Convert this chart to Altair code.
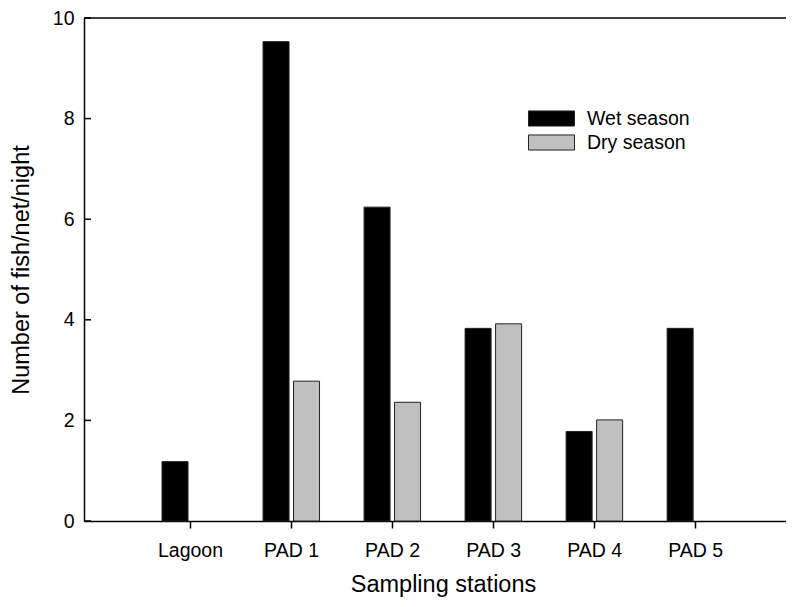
import altair as alt
import pandas as pd

stations = ["Lagoon", "PAD 1", "PAD 2", "PAD 3", "PAD 4", "PAD 5"]
wet = [1.18, 9.53, 6.24, 3.83, 1.78, 3.83]
dry = [None, 2.78, 2.36, 3.92, 2.01, None]
seasons = ["Wet season", "Dry season"]
colors = ["#000000", "#c0c0c0"]
y_ticks = [0, 2, 4, 6, 8, 10]
y_top = [10]

rows = []
for i, s in enumerate(stations):
    rows.append({"station": s, "pos": i + 1, "season": seasons[0], "value": wet[i]})
    rows.append({"station": s, "pos": i + 1, "season": seasons[1], "value": dry[i]})
df = pd.DataFrame(rows)

W = 702
H = 503
FONT = "Liberation Sans"

label_expr = "[" + ",".join("'%s'" % s for s in stations) + "][datum.value - 1]"

x_enc = alt.X(
    "pos:Q",
    scale=alt.Scale(domain=[0, 6.85], nice=False, zero=False),
    axis=alt.Axis(
        values=list(range(1, len(stations) + 1)),
        labelExpr=label_expr,
        title="Sampling stations",
        grid=False,
        tickSize=7,
        labelPadding=13,
        titlePadding=13,
        titleX=359,
    ),
)
y_enc = alt.Y(
    "value:Q",
    scale=alt.Scale(domain=[0, 10], nice=False),
    axis=alt.Axis(
        values=y_ticks,
        format="d",
        tickSize=0,
        labelPadding=10,
        title="Number of fish/net/night",
        titlePadding=19,
        grid=False,
    ),
)

legend = alt.Legend(
    title=None,
    orient="none",
    legendX=454,
    legendY=87,
    symbolType="M-1.77,-0.58H1.77V0.58H-1.77Z",
    symbolSize=676,
    symbolStrokeColor="#222222",
    symbolStrokeWidth=1,
    symbolOpacity=1,
    labelOffset=22,
    rowPadding=0,
    padding=0,
    labelFont=FONT,
    labelFontSize=19.5,
    labelColor="black",
    labelLimit=300,
)
color_enc = alt.Color(
    "season:N", scale=alt.Scale(domain=seasons, range=colors), legend=legend
)

base = alt.Chart(df)
wet_layer = base.transform_filter(alt.datum.season == seasons[0]).mark_bar(
    width=26, xOffset=-15, stroke="#222222", strokeWidth=1, opacity=1
).encode(x=x_enc, y=y_enc, color=color_enc)
dry_layer = base.transform_filter(alt.datum.season == seasons[1]).mark_bar(
    width=26, xOffset=15.5, stroke="#222222", strokeWidth=1, opacity=1
).encode(x=x_enc, y=y_enc, color=color_enc)

ticks = alt.Chart(pd.DataFrame({"value": y_ticks})).mark_rule(
    color="black", strokeWidth=1.5
).encode(y=y_enc, x=alt.value(0), x2=alt.value(7))

top = alt.Chart(pd.DataFrame({"value": y_top})).mark_rule(
    color="black", strokeWidth=1.5
).encode(y=y_enc, x=alt.value(0), x2=alt.value(W))

chart = (
    alt.layer(wet_layer, dry_layer, ticks, top)
    .properties(
        width=W,
        height=H,
        autosize="none",
        padding={"left": 76, "top": 10, "right": 0, "bottom": 78},
    )
    .configure_axis(
        labelFont=FONT,
        titleFont=FONT,
        labelFontSize=19.5,
        titleFontSize=23.5,
        titleFontWeight="normal",
        labelColor="black",
        titleColor="black",
        domainColor="black",
        domainWidth=1.5,
        tickColor="black",
        tickWidth=1.5,
    )
    .configure_view(stroke=None)
)

chart.save("out.html", embed_options={"renderer": "svg", "actions": False})
